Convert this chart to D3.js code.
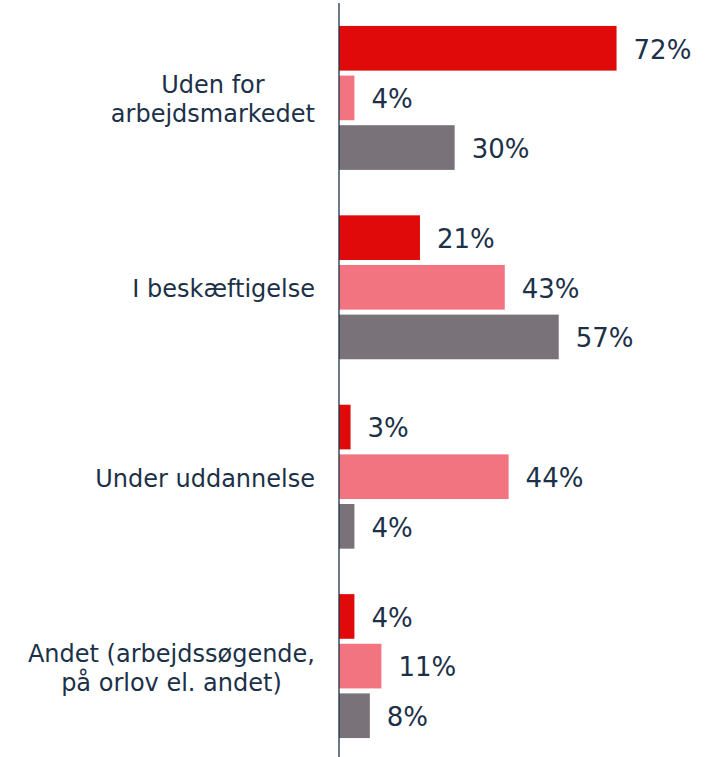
<!DOCTYPE html>
<html>
<head>
<meta charset="utf-8">
<script src="https://cdn.jsdelivr.net/npm/d3@7"></script>
<style>
  body { margin: 0; background: #fff; }
  text { font-family: "DejaVu Sans", Verdana, sans-serif; fill: #1c3148; }
</style>
</head>
<body>
<div id="chart"></div>
<script>
const categories = [
    ["Uden for", "arbejdsmarkedet"],
    ["I beskæftigelse"],
    ["Under uddannelse"],
    ["Andet (arbejdssøgende,", "på orlov el. andet)"]
];
const seriesNames = ["s1", "s2", "s3"];
const seriesColors = ["#e10a0b", "#f27480", "#797279"];
const values1 = [72, 21, 3, 4];
const values2 = [4, 43, 44, 11];
const values3 = [30, 57, 4, 8];

const width = 722, height = 757;
const axisX = 339;

const rows = categories.map((c, i) => ({
    key: i,
    label: c,
    vals: [values1[i], values2[i], values3[i]]
}));

const svg = d3.select("#chart")
    .append("svg")
    .attr("width", width)
    .attr("height", height);

// Scales
let yScale = d3.scaleBand()
    .domain(rows.map(d => d.key))
    .range([7, 757])
    .paddingInner(0.24)
    .paddingOuter(0.1);

let ySub = d3.scaleBand()
    .domain(seriesNames)
    .range([0, yScale.bandwidth()])
    .paddingInner(0.1);

let xScale = d3.scaleLinear()
    .domain([0, 100])
    .range([axisX, axisX + 385.5]);

// Groups
const groups = svg.selectAll(".group")
    .data(rows)
    .enter()
    .append("g")
    .attr("class", "group")
    .attr("transform", d => `translate(0,${yScale(d.key)})`);

groups.selectAll("rect")
    .data(d => d.vals.map((v, j) => ({series: seriesNames[j], value: v, idx: j})))
    .enter()
    .append("rect")
    .attr("x", xScale(0))
    .attr("y", d => ySub(d.series))
    .attr("width", d => xScale(d.value) - xScale(0))
    .attr("height", ySub.bandwidth())
    .attr("fill", d => seriesColors[d.idx]);

// Value labels
groups.selectAll(".value-label")
    .data(d => d.vals.map((v, j) => ({series: seriesNames[j], value: v})))
    .enter()
    .append("text")
    .attr("class", "value-label")
    .attr("x", d => xScale(d.value) + 17)
    .attr("y", d => ySub(d.series) + ySub.bandwidth() / 2)
    .attr("dy", "0.4em")
    .style("font-size", "26px")
    .text(d => d.value + "%");

// Category labels: block right-aligned to the axis, lines centred in the block
const lineH = 29;
const labelRight = axisX - 24;
groups.each(function(d) {
    const g = d3.select(this);
    const t = g.append("text")
        .attr("class", "cat-label")
        .attr("y", yScale.bandwidth() / 2)
        .attr("text-anchor", "middle")
        .style("font-size", "24px");
    const spans = t.selectAll("tspan")
        .data(d.label)
        .enter()
        .append("tspan")
        .attr("dy", (s, k) => k === 0 ? ((-(d.label.length - 1) / 2) * lineH + 10) : lineH)
        .text(s => s);
    const maxW = d3.max(spans.nodes(), n => n.getComputedTextLength());
    spans.attr("x", labelRight - maxW / 2);
});

// Axis line
svg.append("line")
    .attr("x1", axisX)
    .attr("x2", axisX)
    .attr("y1", 3)
    .attr("y2", 757)
    .attr("stroke", "#1c3148")
    .attr("stroke-width", 1.3);
</script>
</body>
</html>
